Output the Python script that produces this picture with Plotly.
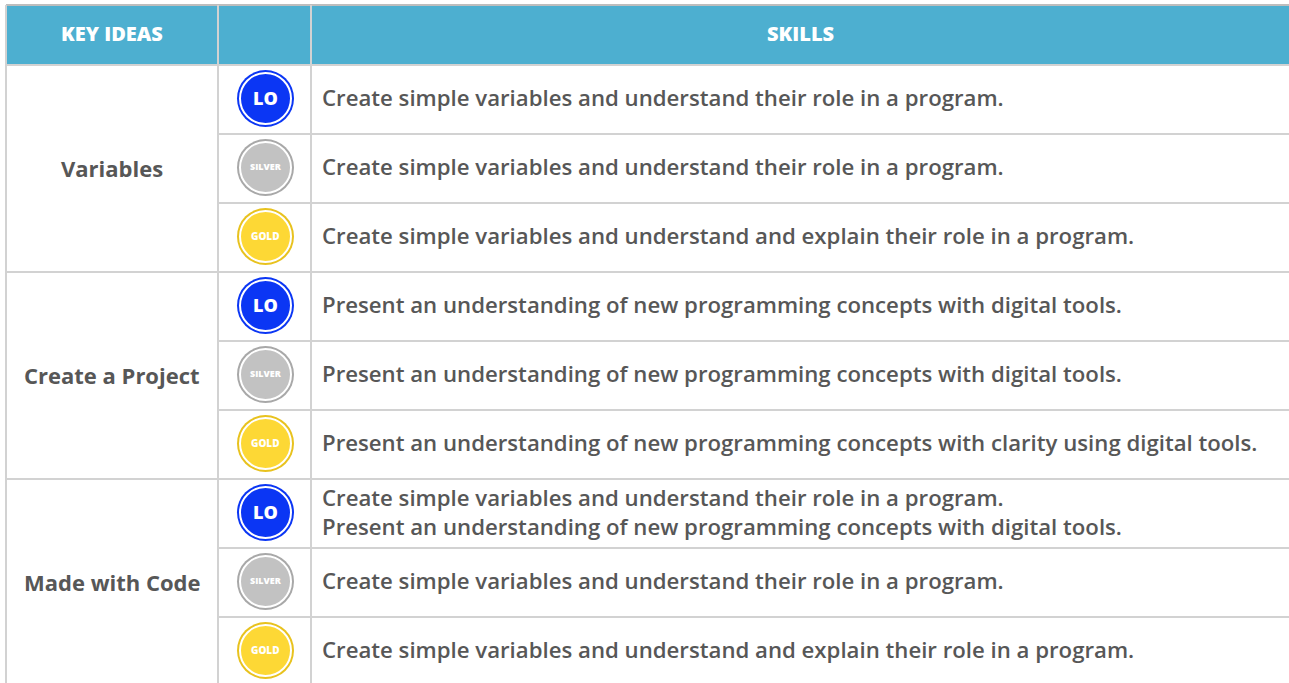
import plotly.graph_objects as go

headers = ["KEY IDEAS", "", "SKILLS"]
key_ideas = ["Variables", "Create a Project", "Made with Code"]
levels = ["LO", "SILVER", "GOLD"]
skills = [
    "Create simple variables and understand their role in a program.",
    "Create simple variables and understand their role in a program.",
    "Create simple variables and understand and explain their role in a program.",
    "Present an understanding of new programming concepts with digital tools.",
    "Present an understanding of new programming concepts with digital tools.",
    "Present an understanding of new programming concepts with clarity using digital tools.",
    "Create simple variables and understand their role in a program.<br>Present an understanding of new programming concepts with digital tools.",
    "Create simple variables and understand their role in a program.",
    "Create simple variables and understand and explain their role in a program.",
]

W, H = 1289, 683
X0, X1, X2 = 6, 218, 311
HEAD_TOP, HEAD_BOT = 5, 65
ROW_H = 69
BORDER = "#d2d2d2"
HEAD_BG = "#4DAFD0"
TEXT = "#575757"
FONT = "Open Sans"

badge_fill = {"LO": "#0B36F4", "SILVER": "#C2C2C2", "GOLD": "#FDD835"}
badge_edge = {"LO": "#0B36F4", "SILVER": "#A8A8A8", "GOLD": "#E8C21E"}
badge_size = {"LO": 18, "SILVER": 9, "GOLD": 10}

fig = go.Figure()
shapes = []
annots = []

# header
shapes.append(dict(type="rect", x0=X0, x1=W + 20, y0=HEAD_TOP, y1=HEAD_BOT,
                   fillcolor=HEAD_BG, line=dict(width=0), layer="below"))
shapes.append(dict(type="line", x0=X0, x1=W + 20, y0=HEAD_TOP, y1=HEAD_TOP,
                   line=dict(color="#bdbdbd", width=2)))
centers = [(X0 + X1) / 2, (X1 + X2) / 2, (X2 + W) / 2]
for h, cx in zip(headers, centers):
    if h:
        annots.append(dict(x=cx, y=(HEAD_TOP + HEAD_BOT) / 2 - 2, text=h, showarrow=False,
                           font=dict(family=FONT, size=20, color="white", weight=800)))

n = len(skills)
bottom = HEAD_BOT + ROW_H * n
# vertical lines
for xv in (X0, X1, X2):
    shapes.append(dict(type="line", x0=xv, x1=xv, y0=HEAD_TOP, y1=bottom + 20,
                       line=dict(color=BORDER, width=2)))
# horizontal lines
for i in range(n + 1):
    yv = HEAD_BOT + ROW_H * i
    start = X0 if i % 3 == 0 else X1
    shapes.append(dict(type="line", x0=start, x1=W + 20, y0=yv, y1=yv,
                       line=dict(color=BORDER, width=2)))

# key ideas
for g, k in enumerate(key_ideas):
    cy = HEAD_BOT + ROW_H * (3 * g + 1.5)
    annots.append(dict(x=(X0 + X1) / 2, y=cy - 1, text=k, showarrow=False,
                       font=dict(family=FONT, size=22, color=TEXT, weight=700)))

# badges and skills
bx, by, bfill, bedge = [], [], [], []
for i in range(n):
    lv = levels[i % 3]
    cy = HEAD_BOT + ROW_H * (i + 0.5)
    bx.append((X1 + X2) / 2 + 1)
    by.append(cy - 1)
    bfill.append(badge_fill[lv])
    bedge.append(badge_edge[lv])
    annots.append(dict(x=(X1 + X2) / 2 + 1, y=cy - 2, text=lv, showarrow=False,
                       font=dict(family=FONT, size=badge_size[lv], color="white", weight=800)))
    annots.append(dict(x=X2 + 9, y=cy - 2, text=skills[i], showarrow=False, xanchor="left",
                       align="left",
                       font=dict(family=FONT, size=22.2, color=TEXT, weight=600)))

fig.add_trace(go.Scatter(x=bx, y=by, mode="markers", hoverinfo="skip",
                         marker=dict(size=57, color=bedge, line=dict(width=0))))
fig.add_trace(go.Scatter(x=bx, y=by, mode="markers", hoverinfo="skip",
                         marker=dict(size=51, color=bfill, line=dict(color="white", width=2))))

fig.update_layout(
    width=W, height=H, margin=dict(l=0, r=0, t=0, b=0),
    paper_bgcolor="white", plot_bgcolor="white", showlegend=False,
    xaxis=dict(range=[0, W], visible=False, fixedrange=True),
    yaxis=dict(range=[H, 0], visible=False, fixedrange=True),
    shapes=shapes, annotations=annots,
)
fig.write_html("out.html", config={"displayModeBar": False},
               post_script="document.body.style.margin='0';document.body.style.overflow='hidden';")
